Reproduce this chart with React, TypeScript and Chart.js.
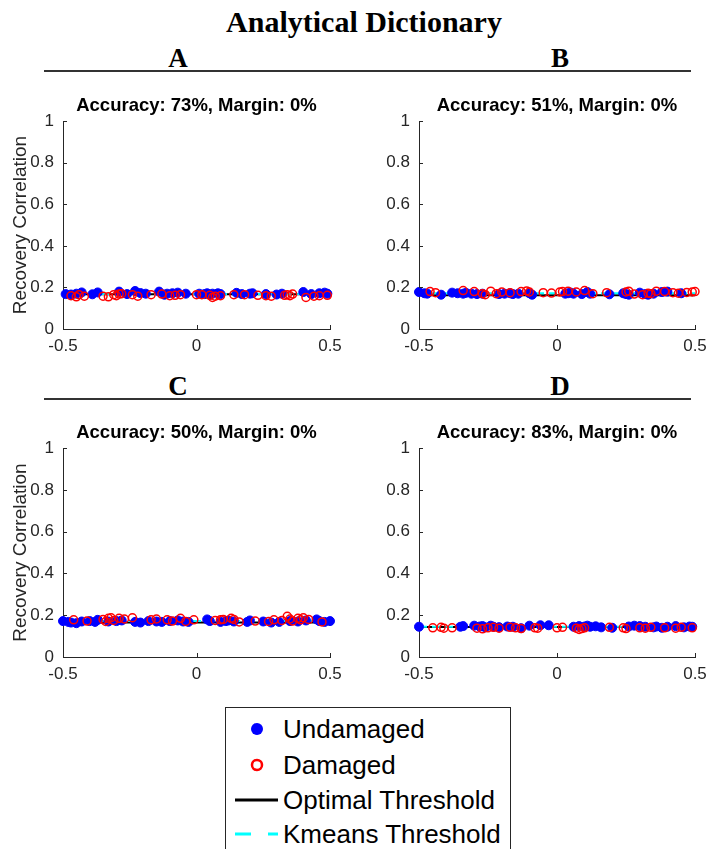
import React, { useEffect, useRef } from "react";
import { Chart, registerables } from "chart.js";
Chart.register(...registerables);

// ---- axes / labels ----
const xLimits = [-0.5, 0.5];
const xTicks = [-0.5, 0, 0.5];
const yTicks = [0, 0.2, 0.4, 0.6, 0.8, 1];
const panelLetters = ["A", "B", "C", "D"];
const accuracies = [73, 51, 50, 83];
const margins = [0, 0, 0, 0];
const legendLabels = ["Undamaged", "Damaged", "Optimal Threshold", "Kmeans Threshold"];

// ---- thresholds ----
const optimalThr = [0.167, 0.163, 0.165, 0.144];
const kmeansThr = [0.169, 0.172, 0.172, 0.145];

// ---- panel A ----
const aUndX = [-0.49,-0.47,-0.45,-0.43,-0.39,-0.37,-0.29,-0.26,-0.23,-0.21,-0.19,-0.14,-0.12,-0.11,-0.09,-0.07,-0.04,0.01,0.03,0.04,0.05,0.06,0.08,0.09,0.15,0.17,0.20,0.21,0.26,0.30,0.32,0.40,0.43,0.46,0.48,0.49];
const aUndY = [0.168,0.166,0.170,0.176,0.167,0.176,0.180,0.168,0.183,0.173,0.170,0.180,0.165,0.170,0.172,0.175,0.170,0.170,0.168,0.172,0.165,0.170,0.172,0.168,0.174,0.168,0.170,0.172,0.168,0.166,0.170,0.178,0.168,0.172,0.175,0.170];
const aDamX = [-0.47,-0.45,-0.44,-0.42,-0.35,-0.33,-0.31,-0.30,-0.29,-0.28,-0.24,-0.22,-0.17,-0.13,-0.10,-0.08,-0.06,0.00,0.02,0.05,0.06,0.07,0.09,0.14,0.18,0.23,0.26,0.28,0.33,0.34,0.35,0.36,0.41,0.44,0.46,0.49];
const aDamY = [0.160,0.155,0.165,0.158,0.158,0.155,0.165,0.160,0.168,0.170,0.165,0.158,0.165,0.168,0.160,0.162,0.165,0.165,0.165,0.162,0.152,0.158,0.160,0.165,0.165,0.162,0.160,0.158,0.162,0.165,0.160,0.168,0.152,0.158,0.160,0.162];

// ---- panel B ----
const bUndX = [-0.50,-0.48,-0.47,-0.42,-0.38,-0.36,-0.34,-0.33,-0.31,-0.29,-0.27,-0.21,-0.19,-0.17,-0.16,-0.14,-0.10,-0.09,0.03,0.04,0.05,0.06,0.09,0.11,0.12,0.19,0.24,0.25,0.26,0.30,0.32,0.33,0.35,0.38,0.40,0.45];
const bUndY = [0.178,0.172,0.170,0.165,0.175,0.172,0.170,0.174,0.170,0.168,0.170,0.168,0.170,0.172,0.168,0.170,0.172,0.165,0.170,0.172,0.175,0.170,0.168,0.178,0.170,0.167,0.172,0.168,0.165,0.175,0.168,0.165,0.170,0.178,0.180,0.172];
const bDamX = [-0.46,-0.44,-0.34,-0.30,-0.27,-0.26,-0.24,-0.22,-0.20,-0.17,-0.13,-0.11,-0.10,-0.05,-0.02,0.01,0.02,0.04,0.07,0.10,0.13,0.18,0.25,0.26,0.28,0.31,0.33,0.34,0.36,0.39,0.42,0.44,0.47,0.49,0.50];
const bDamY = [0.180,0.175,0.185,0.180,0.170,0.165,0.182,0.170,0.178,0.175,0.180,0.183,0.178,0.175,0.173,0.178,0.180,0.182,0.178,0.185,0.170,0.175,0.178,0.182,0.168,0.165,0.172,0.170,0.182,0.180,0.175,0.172,0.176,0.178,0.180];

// ---- panel C ----
const cUndX = [-0.50,-0.48,-0.47,-0.45,-0.43,-0.40,-0.38,-0.37,-0.33,-0.30,-0.28,-0.23,-0.21,-0.18,-0.15,-0.13,-0.10,-0.07,-0.05,-0.03,0.04,0.05,0.09,0.11,0.12,0.14,0.19,0.20,0.25,0.28,0.31,0.35,0.38,0.41,0.45,0.46,0.48,0.50];
const cUndY = [0.172,0.168,0.165,0.162,0.170,0.172,0.168,0.178,0.170,0.172,0.175,0.168,0.165,0.172,0.170,0.168,0.172,0.175,0.170,0.168,0.180,0.172,0.168,0.172,0.175,0.170,0.168,0.175,0.170,0.165,0.168,0.172,0.170,0.175,0.180,0.172,0.168,0.172];
const cDamX = [-0.46,-0.41,-0.35,-0.34,-0.33,-0.32,-0.31,-0.29,-0.27,-0.24,-0.17,-0.15,-0.11,-0.09,-0.06,-0.04,-0.01,0.07,0.09,0.10,0.13,0.14,0.16,0.22,0.27,0.29,0.32,0.34,0.35,0.36,0.38,0.39,0.40,0.42,0.47];
const cDamY = [0.178,0.172,0.180,0.170,0.185,0.188,0.175,0.185,0.182,0.188,0.178,0.182,0.178,0.172,0.185,0.170,0.178,0.175,0.178,0.180,0.185,0.180,0.168,0.172,0.170,0.178,0.175,0.195,0.182,0.172,0.185,0.178,0.188,0.180,0.168];

// ---- panel D ----
const dUndX = [-0.50,-0.35,-0.34,-0.30,-0.28,-0.27,-0.26,-0.24,-0.23,-0.21,-0.18,-0.16,-0.13,-0.10,-0.06,-0.03,0.06,0.08,0.10,0.11,0.12,0.14,0.16,0.20,0.26,0.28,0.30,0.32,0.35,0.36,0.38,0.40,0.43,0.46,0.48,0.49];
const dUndY = [0.145,0.145,0.148,0.150,0.146,0.148,0.142,0.150,0.145,0.143,0.146,0.145,0.138,0.150,0.152,0.152,0.145,0.148,0.146,0.150,0.145,0.147,0.142,0.140,0.146,0.150,0.148,0.145,0.142,0.146,0.140,0.145,0.148,0.142,0.146,0.145];
const dDamX = [-0.45,-0.42,-0.41,-0.38,-0.29,-0.27,-0.25,-0.23,-0.21,-0.17,-0.15,-0.13,-0.08,-0.07,0.00,0.02,0.07,0.08,0.09,0.10,0.19,0.24,0.25,0.30,0.32,0.34,0.39,0.43,0.45,0.49];
const dDamY = [0.140,0.142,0.138,0.140,0.138,0.135,0.140,0.142,0.138,0.142,0.140,0.136,0.140,0.138,0.140,0.142,0.138,0.132,0.136,0.140,0.142,0.140,0.136,0.140,0.138,0.142,0.140,0.138,0.142,0.140];

const undX = [aUndX, bUndX, cUndX, dUndX];
const undY = [aUndY, bUndY, cUndY, dUndY];
const damX = [aDamX, bDamX, cDamX, dDamX];
const damY = [aDamY, bDamY, cDamY, dDamY];

const SANS = "'Liberation Sans', Arial, Helvetica, sans-serif";
const SERIF = "'Liberation Serif', 'Times New Roman', serif";
const AXIS = "#262626";

const zip = (xs: number[], ys: number[]) => xs.map((x, i) => ({ x, y: ys[i] }));

const inwardTicks = {
  id: "inwardTicks",
  afterDatasetsDraw(chart: any) {
    const { ctx, chartArea, scales } = chart;
    const x = scales.x, y = scales.y;
    ctx.save();
    ctx.strokeStyle = AXIS;
    ctx.lineWidth = 1;
    ctx.beginPath();
    x.ticks.forEach((t: any) => {
      const px = Math.round(x.getPixelForValue(t.value)) + 0.5;
      ctx.moveTo(px, chartArea.bottom);
      ctx.lineTo(px, chartArea.bottom - 4);
    });
    y.ticks.forEach((t: any) => {
      const py = Math.round(y.getPixelForValue(t.value)) + 0.5;
      ctx.moveTo(chartArea.left, py);
      ctx.lineTo(chartArea.left + 4, py);
    });
    ctx.stroke();
    ctx.restore();
  },
};

function Panel({ idx, left, top, width, height, yTitle, plotRight }: { idx: number; left: number; top: number; width: number; height: number; yTitle: boolean; plotRight: number }) {
  const ref = useRef<HTMLCanvasElement>(null);
  useEffect(() => {
    if (!ref.current) return;
    const rightPad = width - (plotRight - left);
    const chart = new Chart(ref.current, {
      type: "scatter",
      data: {
        datasets: [
          {
            type: "scatter",
            label: legendLabels[0],
            data: zip(undX[idx], undY[idx]),
            pointRadius: 4.5,
            pointBackgroundColor: "#0000ff",
            pointBorderColor: "#0000ff",
            pointBorderWidth: 1,
            order: 2,
            clip: false as any,
          },
          {
            type: "scatter",
            label: legendLabels[1],
            data: zip(damX[idx], damY[idx]),
            pointRadius: 4,
            pointBackgroundColor: "rgba(0,0,0,0)",
            pointBorderColor: "#ff0000",
            pointBorderWidth: 1.5,
            order: 1,
            clip: false as any,
          },
          {
            type: "line",
            label: legendLabels[2],
            data: [{ x: xLimits[0], y: optimalThr[idx] }, { x: xLimits[1], y: optimalThr[idx] }],
            borderColor: "#000000",
            borderWidth: 2,
            pointRadius: 0,
            order: 4,
          } as any,
          {
            type: "line",
            label: legendLabels[3],
            data: [{ x: xLimits[0], y: kmeansThr[idx] }, { x: xLimits[1], y: kmeansThr[idx] }],
            borderColor: "#00ffff",
            borderWidth: 2,
            borderDash: [8, 5],
            pointRadius: 0,
            order: 3,
          } as any,
        ],
      },
      options: {
        animation: false,
        responsive: false,
        events: [],
        layout: { padding: { left: 0, right: rightPad, top: 3, bottom: 0 } },
        plugins: {
          legend: { display: false },
          tooltip: { enabled: false },
          title: {
            display: true,
            text: `Accuracy: ${accuracies[idx]}%, Margin: ${margins[idx]}%`,
            color: "#000000",
            font: { family: SANS, size: 18.5, weight: "bold" },
            padding: { top: 0, bottom: 4 },
            fullSize: false,
          },
        },
        scales: {
          x: {
            type: "linear",
            min: xLimits[0],
            max: xLimits[1],
            afterBuildTicks: (s: any) => { s.ticks = xTicks.map((v) => ({ value: v })); },
            afterFit: (s: any) => { s.height = 31; },
            grid: { display: false, drawTicks: false },
            border: { display: true, color: AXIS, width: 1 },
            ticks: { color: AXIS, font: { family: SANS, size: 17 }, padding: 7, maxRotation: 0, callback: (v: any) => String(v) },
          },
          y: {
            type: "linear",
            min: 0,
            max: 1,
            afterBuildTicks: (s: any) => { s.ticks = yTicks.map((v) => ({ value: v })); },
            afterFit: (s: any) => { s.width = 63; },
            grid: { display: false, drawTicks: false },
            border: { display: true, color: AXIS, width: 1 },
            ticks: { color: AXIS, font: { family: SANS, size: 17 }, padding: 9, callback: (v: any) => String(v) },
            title: {
              display: yTitle,
              text: "Recovery Correlation",
              color: AXIS,
              font: { family: SANS, size: 19 },
              padding: { top: 9, bottom: 0 },
            },
          },
        },
      },
      plugins: [inwardTicks],
    } as any);
    return () => chart.destroy();
  }, [idx, left, width, height, yTitle, plotRight]);
  return (
    <canvas
      ref={ref}
      width={width}
      height={height}
      style={{ position: "absolute", left, top, width, height }}
    />
  );
}

export default function App() {
  const letterStyle = (cx: number, cy: number): React.CSSProperties => ({
    position: "absolute",
    left: cx - 40,
    top: cy - 18,
    width: 80,
    height: 36,
    lineHeight: "36px",
    textAlign: "center",
    fontFamily: SERIF,
    fontWeight: "bold",
    fontSize: 27,
    color: "#000",
  });
  const rowY = [21, 57, 92, 126];
  return (
    <div style={{ position: "absolute", left: 0, top: 0, width: 707, height: 849, overflow: "hidden", background: "#fff" }}>
      <div
        style={{
          position: "absolute", left: 0, top: 2, width: 728, height: 40, lineHeight: "40px",
          textAlign: "center", fontFamily: SERIF, fontWeight: "bold", fontSize: 30, color: "#000",
        }}
      >
        Analytical Dictionary
      </div>
      <div style={letterStyle(178, 58)}>{panelLetters[0]}</div>
      <div style={letterStyle(560, 58)}>{panelLetters[1]}</div>
      <div style={letterStyle(178, 386)}>{panelLetters[2]}</div>
      <div style={letterStyle(560, 386)}>{panelLetters[3]}</div>
      <div style={{ position: "absolute", left: 44, top: 70, width: 647, height: 2, background: "#333" }} />
      <div style={{ position: "absolute", left: 44, top: 398, width: 647, height: 2, background: "#333" }} />

      <Panel idx={0} left={0} top={92} width={350} height={268} yTitle={true} plotRight={330} />
      <Panel idx={1} left={356} top={92} width={370} height={268} yTitle={false} plotRight={695} />
      <Panel idx={2} left={0} top={419} width={350} height={269} yTitle={true} plotRight={330} />
      <Panel idx={3} left={356} top={419} width={370} height={269} yTitle={false} plotRight={695} />

      <div style={{ position: "absolute", left: 225, top: 707, width: 284, height: 160, border: "1px solid #262626", background: "#fff" }}>
        <svg width={284} height={160} style={{ position: "absolute", left: 0, top: 0 }}>
          <circle cx={31} cy={rowY[0]} r={6} fill="#0000ff" />
          <circle cx={31} cy={rowY[1]} r={5} fill="none" stroke="#ff0000" strokeWidth={2.5} />
          <line x1={9} y1={rowY[2]} x2={52} y2={rowY[2]} stroke="#000" strokeWidth={3} />
          <line x1={9} y1={rowY[3]} x2={52} y2={rowY[3]} stroke="#00ffff" strokeWidth={3} strokeDasharray="16 17 10" />
        </svg>
        {legendLabels.map((t, i) => (
          <div
            key={t}
            style={{
              position: "absolute", left: 57, top: rowY[i] - 16, height: 32, lineHeight: "32px",
              fontFamily: SANS, fontSize: 26, color: "#000", whiteSpace: "nowrap",
            }}
          >
            {t}
          </div>
        ))}
      </div>
    </div>
  );
}
